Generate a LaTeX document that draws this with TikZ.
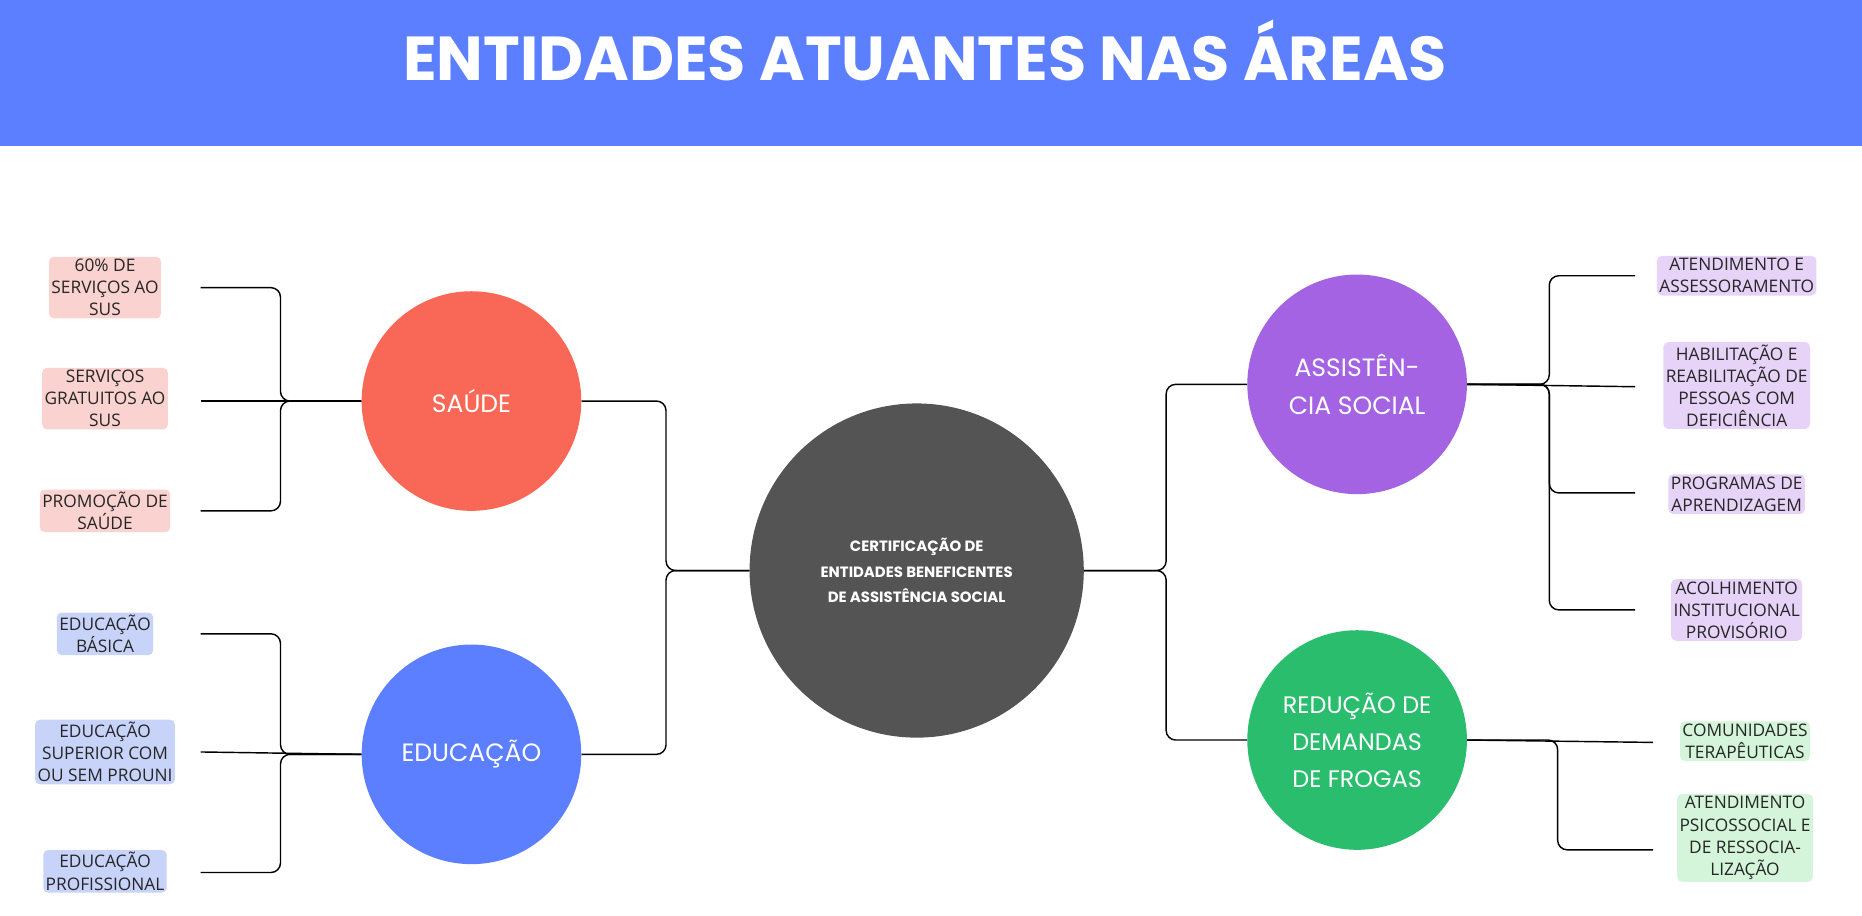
\documentclass[tikz,border=0pt]{standalone}
\usepackage{fontspec}
\setmainfont{Poppins}
\newfontfamily\leaffont{Open Sans}
\begin{document}
\begin{tikzpicture}[x=1pt,y=-1pt,
  big/.style={circle,minimum size=184pt,inner sep=0pt,text=white,font=\fontsize{21}{32}\selectfont,align=center},
  leaf/.style={rounded corners=4pt,inner sep=2pt,align=center,font=\leaffont\fontsize{14.5}{18.5}\selectfont,text=black!85},
  con/.style={draw=black,line width=1.2pt,rounded corners=8pt}]
\definecolor{hdr}{HTML}{5B7FFF}
\definecolor{sau}{HTML}{F96757}
\definecolor{edu}{HTML}{5B7FFF}
\definecolor{ass}{HTML}{A363E3}
\definecolor{red}{HTML}{2ABD6E}
\definecolor{cen}{HTML}{545454}
\definecolor{lpink}{HTML}{FAD2CF}
\definecolor{lblue}{HTML}{C8D3FA}
\definecolor{lpur}{HTML}{E6D3F7}
\definecolor{lgrn}{HTML}{D4F5DA}
\useasboundingbox (0,0) rectangle (1560,767);
\fill[hdr] (0,0) rectangle (1560,122);
\node[text=white,font=\bfseries\fontsize{52}{60}\selectfont] (title) at (775,42) {ENTIDADES ATUANTES NAS ÁREAS};
\node[circle,fill=cen,minimum size=280pt,inner sep=0pt,text=white,align=center,font=\bfseries\fontsize{12.5}{21.5}\selectfont] (c) at (768,478) {CERTIFICAÇÃO DE\\ENTIDADES BENEFICENTES\\DE ASSISTÊNCIA SOCIAL};
\node[big,fill=sau] (s) at (395,336) {SAÚDE};
\node[big,fill=edu] (e) at (395,632) {EDUCAÇÃO};
\node[big,fill=ass] (a) at (1137,322) {ASSISTÊN-\\CIA SOCIAL};
\node[big,fill=red,font=\fontsize{20}{31}\selectfont] (r) at (1137,620) {REDUÇÃO DE\\DEMANDAS\\DE FROGAS};
% leaves
\node[leaf,fill=lpink] (s1) at (88,241) {60\% DE\\SERVIÇOS AO\\SUS};
\node[leaf,fill=lpink] (s2) at (88,334) {SERVIÇOS\\GRATUITOS AO\\SUS};
\node[leaf,fill=lpink] (s3) at (88,428) {PROMOÇÃO DE\\SAÚDE};
\node[leaf,fill=lblue] (e1) at (88,531) {EDUCAÇÃO\\BÁSICA};
\node[leaf,fill=lblue] (e2) at (88,630) {EDUCAÇÃO\\SUPERIOR COM\\OU SEM PROUNI};
\node[leaf,fill=lblue] (e3) at (88,730) {EDUCAÇÃO\\PROFISSIONAL};
\node[leaf,fill=lpur] (a1) at (1455,231) {ATENDIMENTO E\\ASSESSORAMENTO};
\node[leaf,fill=lpur] (a2) at (1455,323) {HABILITAÇÃO E\\REABILITAÇÃO DE\\PESSOAS COM\\DEFICIÊNCIA};
\node[leaf,fill=lpur] (a3) at (1455,414) {PROGRAMAS DE\\APRENDIZAGEM};
\node[leaf,fill=lpur] (a4) at (1455,511) {ACOLHIMENTO\\INSTITUCIONAL\\PROVISÓRIO};
\node[leaf,fill=lgrn] (r1) at (1462,621) {COMUNIDADES\\TERAPÊUTICAS};
\node[leaf,fill=lgrn] (r2) at (1462,702) {ATENDIMENTO\\PSICOSSOCIAL E\\DE RESSOCIA-\\LIZAÇÃO};
\coordinate (ls) at (168,0); \coordinate (rs) at (1370,0); \coordinate (rr) at (1385,0);
% main connectors
\draw[con] (c.west) -| (558,336) -- (s.east);
\draw[con] (c.west) -| (558,632) -- (e.east);
\draw[con] (c.east) -| (977,322) -- (a.west);
\draw[con] (c.east) -| (977,620) -- (r.west);
% saude
\draw[con] (s.west) -| (235,241) -- (168,241);
\draw[con] (s.west) -- (168,336);
\draw[con] (s.west) -| (235,428) -- (168,428);
\draw[con] (e.west) -| (235,531) -- (168,531);
\draw[con] (e.west) -- (168,630);
\draw[con] (e.west) -| (235,731) -- (168,731);
\draw[con] (a.east) -| (1298,231) -- (1370,231);
\draw[con] (a.east) -- (1370,324);
\draw[con] (a.east) -| (1298,413) -- (1370,413);
\draw[con] (a.east) -| (1298,511) -- (1370,511);
\draw[con] (r.east) -- (1385,622);
\draw[con] (r.east) -| (1305,712) -- (1385,712);
\end{tikzpicture}
\end{document}
